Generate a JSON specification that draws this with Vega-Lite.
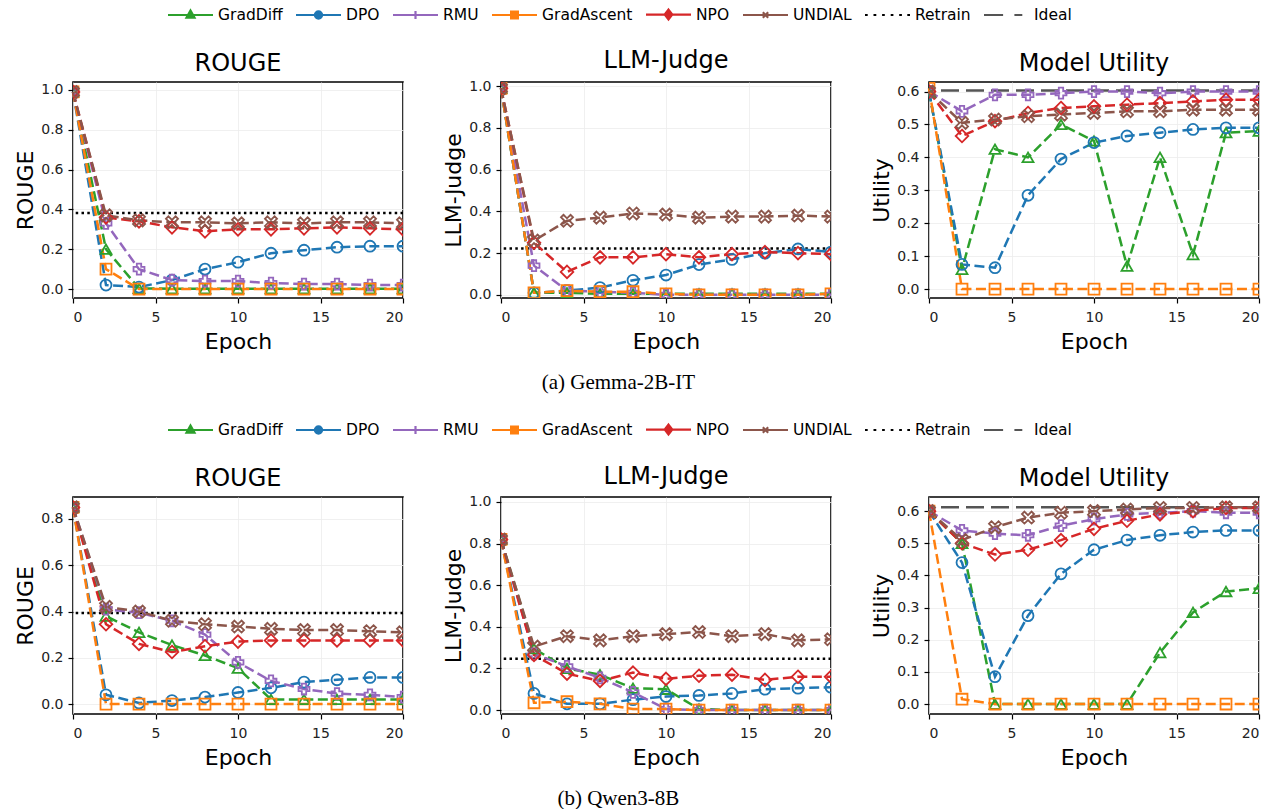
{
"$schema":"https://vega.github.io/schema/vega-lite/v6.json",
"background":"white",
"padding":{"left":13,"top":3,"right":0,"bottom":0},
"config":{
 "font":"DejaVu Sans",
 "view":{"stroke":"#000","strokeWidth":1.6},
 "axis":{"domain":false,"tickColor":"#000","tickSize":5,"tickWidth":1.2,"labelFontSize":14,"labelColor":"#222","titleFontSize":22,"titleFontWeight":"normal","titleColor":"#000","gridColor":"#ececec","gridWidth":0.8,"labelPadding":4},
 "axisX":{"titlePadding":7,"labelPadding":7},
 "axisY":{"titlePadding":3,"labelPadding":5},
 "title":{"fontSize":24,"fontWeight":"normal","color":"#000","offset":6}
},
"datasets":{
"refs":[
{"model":"Gemma","metric":"ROUGE","method":"Retrain","score":0.382},
{"model":"Gemma","metric":"Judge","method":"Retrain","score":0.222},
{"model":"Gemma","metric":"Utility","method":"Ideal","score":0.603},
{"model":"Qwen","metric":"ROUGE","method":"Retrain","score":0.394},
{"model":"Qwen","metric":"Judge","method":"Retrain","score":0.247},
{"model":"Qwen","metric":"Utility","method":"Ideal","score":0.612}
],
"curves":[
{"model":"Gemma","metric":"ROUGE","method":"GradDiff","epoch":0,"score":0.99},
{"model":"Gemma","metric":"ROUGE","method":"GradDiff","epoch":2,"score":0.2},
{"model":"Gemma","metric":"ROUGE","method":"GradDiff","epoch":4,"score":0.003},
{"model":"Gemma","metric":"ROUGE","method":"GradDiff","epoch":6,"score":0.002},
{"model":"Gemma","metric":"ROUGE","method":"GradDiff","epoch":8,"score":0.002},
{"model":"Gemma","metric":"ROUGE","method":"GradDiff","epoch":10,"score":0.002},
{"model":"Gemma","metric":"ROUGE","method":"GradDiff","epoch":12,"score":0.002},
{"model":"Gemma","metric":"ROUGE","method":"GradDiff","epoch":14,"score":0.002},
{"model":"Gemma","metric":"ROUGE","method":"GradDiff","epoch":16,"score":0.002},
{"model":"Gemma","metric":"ROUGE","method":"GradDiff","epoch":18,"score":0.002},
{"model":"Gemma","metric":"ROUGE","method":"GradDiff","epoch":20,"score":0.002},
{"model":"Gemma","metric":"ROUGE","method":"DPO","epoch":0,"score":0.99},
{"model":"Gemma","metric":"ROUGE","method":"DPO","epoch":2,"score":0.02},
{"model":"Gemma","metric":"ROUGE","method":"DPO","epoch":4,"score":0.01},
{"model":"Gemma","metric":"ROUGE","method":"DPO","epoch":6,"score":0.045},
{"model":"Gemma","metric":"ROUGE","method":"DPO","epoch":8,"score":0.1},
{"model":"Gemma","metric":"ROUGE","method":"DPO","epoch":10,"score":0.135},
{"model":"Gemma","metric":"ROUGE","method":"DPO","epoch":12,"score":0.18},
{"model":"Gemma","metric":"ROUGE","method":"DPO","epoch":14,"score":0.195},
{"model":"Gemma","metric":"ROUGE","method":"DPO","epoch":16,"score":0.21},
{"model":"Gemma","metric":"ROUGE","method":"DPO","epoch":18,"score":0.215},
{"model":"Gemma","metric":"ROUGE","method":"DPO","epoch":20,"score":0.215},
{"model":"Gemma","metric":"ROUGE","method":"RMU","epoch":0,"score":0.99},
{"model":"Gemma","metric":"ROUGE","method":"RMU","epoch":2,"score":0.33},
{"model":"Gemma","metric":"ROUGE","method":"RMU","epoch":4,"score":0.1},
{"model":"Gemma","metric":"ROUGE","method":"RMU","epoch":6,"score":0.045},
{"model":"Gemma","metric":"ROUGE","method":"RMU","epoch":8,"score":0.04},
{"model":"Gemma","metric":"ROUGE","method":"RMU","epoch":10,"score":0.04},
{"model":"Gemma","metric":"ROUGE","method":"RMU","epoch":12,"score":0.03},
{"model":"Gemma","metric":"ROUGE","method":"RMU","epoch":14,"score":0.025},
{"model":"Gemma","metric":"ROUGE","method":"RMU","epoch":16,"score":0.025},
{"model":"Gemma","metric":"ROUGE","method":"RMU","epoch":18,"score":0.02},
{"model":"Gemma","metric":"ROUGE","method":"RMU","epoch":20,"score":0.02},
{"model":"Gemma","metric":"ROUGE","method":"GradAscent","epoch":0,"score":0.99},
{"model":"Gemma","metric":"ROUGE","method":"GradAscent","epoch":2,"score":0.1},
{"model":"Gemma","metric":"ROUGE","method":"GradAscent","epoch":4,"score":0},
{"model":"Gemma","metric":"ROUGE","method":"GradAscent","epoch":6,"score":0},
{"model":"Gemma","metric":"ROUGE","method":"GradAscent","epoch":8,"score":0},
{"model":"Gemma","metric":"ROUGE","method":"GradAscent","epoch":10,"score":0},
{"model":"Gemma","metric":"ROUGE","method":"GradAscent","epoch":12,"score":0},
{"model":"Gemma","metric":"ROUGE","method":"GradAscent","epoch":14,"score":0},
{"model":"Gemma","metric":"ROUGE","method":"GradAscent","epoch":16,"score":0},
{"model":"Gemma","metric":"ROUGE","method":"GradAscent","epoch":18,"score":0},
{"model":"Gemma","metric":"ROUGE","method":"GradAscent","epoch":20,"score":0},
{"model":"Gemma","metric":"ROUGE","method":"NPO","epoch":0,"score":0.99},
{"model":"Gemma","metric":"ROUGE","method":"NPO","epoch":2,"score":0.36},
{"model":"Gemma","metric":"ROUGE","method":"NPO","epoch":4,"score":0.34},
{"model":"Gemma","metric":"ROUGE","method":"NPO","epoch":6,"score":0.31},
{"model":"Gemma","metric":"ROUGE","method":"NPO","epoch":8,"score":0.29},
{"model":"Gemma","metric":"ROUGE","method":"NPO","epoch":10,"score":0.3},
{"model":"Gemma","metric":"ROUGE","method":"NPO","epoch":12,"score":0.3},
{"model":"Gemma","metric":"ROUGE","method":"NPO","epoch":14,"score":0.305},
{"model":"Gemma","metric":"ROUGE","method":"NPO","epoch":16,"score":0.31},
{"model":"Gemma","metric":"ROUGE","method":"NPO","epoch":18,"score":0.305},
{"model":"Gemma","metric":"ROUGE","method":"NPO","epoch":20,"score":0.3},
{"model":"Gemma","metric":"ROUGE","method":"UNDIAL","epoch":0,"score":0.99},
{"model":"Gemma","metric":"ROUGE","method":"UNDIAL","epoch":2,"score":0.37},
{"model":"Gemma","metric":"ROUGE","method":"UNDIAL","epoch":4,"score":0.345},
{"model":"Gemma","metric":"ROUGE","method":"UNDIAL","epoch":6,"score":0.335},
{"model":"Gemma","metric":"ROUGE","method":"UNDIAL","epoch":8,"score":0.335},
{"model":"Gemma","metric":"ROUGE","method":"UNDIAL","epoch":10,"score":0.33},
{"model":"Gemma","metric":"ROUGE","method":"UNDIAL","epoch":12,"score":0.335},
{"model":"Gemma","metric":"ROUGE","method":"UNDIAL","epoch":14,"score":0.33},
{"model":"Gemma","metric":"ROUGE","method":"UNDIAL","epoch":16,"score":0.335},
{"model":"Gemma","metric":"ROUGE","method":"UNDIAL","epoch":18,"score":0.335},
{"model":"Gemma","metric":"ROUGE","method":"UNDIAL","epoch":20,"score":0.33},
{"model":"Gemma","metric":"Judge","method":"GradDiff","epoch":0,"score":0.99},
{"model":"Gemma","metric":"Judge","method":"GradDiff","epoch":2,"score":0.01},
{"model":"Gemma","metric":"Judge","method":"GradDiff","epoch":4,"score":0.01},
{"model":"Gemma","metric":"Judge","method":"GradDiff","epoch":6,"score":0.005},
{"model":"Gemma","metric":"Judge","method":"GradDiff","epoch":8,"score":0.005},
{"model":"Gemma","metric":"Judge","method":"GradDiff","epoch":10,"score":0.005},
{"model":"Gemma","metric":"Judge","method":"GradDiff","epoch":12,"score":0.005},
{"model":"Gemma","metric":"Judge","method":"GradDiff","epoch":14,"score":0.005},
{"model":"Gemma","metric":"Judge","method":"GradDiff","epoch":16,"score":0.005},
{"model":"Gemma","metric":"Judge","method":"GradDiff","epoch":18,"score":0.005},
{"model":"Gemma","metric":"Judge","method":"GradDiff","epoch":20,"score":0.005},
{"model":"Gemma","metric":"Judge","method":"DPO","epoch":0,"score":0.99},
{"model":"Gemma","metric":"Judge","method":"DPO","epoch":2,"score":0.01},
{"model":"Gemma","metric":"Judge","method":"DPO","epoch":4,"score":0.02},
{"model":"Gemma","metric":"Judge","method":"DPO","epoch":6,"score":0.035},
{"model":"Gemma","metric":"Judge","method":"DPO","epoch":8,"score":0.07},
{"model":"Gemma","metric":"Judge","method":"DPO","epoch":10,"score":0.095},
{"model":"Gemma","metric":"Judge","method":"DPO","epoch":12,"score":0.145},
{"model":"Gemma","metric":"Judge","method":"DPO","epoch":14,"score":0.17},
{"model":"Gemma","metric":"Judge","method":"DPO","epoch":16,"score":0.2},
{"model":"Gemma","metric":"Judge","method":"DPO","epoch":18,"score":0.22},
{"model":"Gemma","metric":"Judge","method":"DPO","epoch":20,"score":0.205},
{"model":"Gemma","metric":"Judge","method":"RMU","epoch":0,"score":0.99},
{"model":"Gemma","metric":"Judge","method":"RMU","epoch":2,"score":0.14},
{"model":"Gemma","metric":"Judge","method":"RMU","epoch":4,"score":0.02},
{"model":"Gemma","metric":"Judge","method":"RMU","epoch":6,"score":0.015},
{"model":"Gemma","metric":"Judge","method":"RMU","epoch":8,"score":0.01},
{"model":"Gemma","metric":"Judge","method":"RMU","epoch":10,"score":0},
{"model":"Gemma","metric":"Judge","method":"RMU","epoch":12,"score":0},
{"model":"Gemma","metric":"Judge","method":"RMU","epoch":14,"score":0},
{"model":"Gemma","metric":"Judge","method":"RMU","epoch":16,"score":0},
{"model":"Gemma","metric":"Judge","method":"RMU","epoch":18,"score":0},
{"model":"Gemma","metric":"Judge","method":"RMU","epoch":20,"score":0},
{"model":"Gemma","metric":"Judge","method":"GradAscent","epoch":0,"score":0.99},
{"model":"Gemma","metric":"Judge","method":"GradAscent","epoch":2,"score":0.01},
{"model":"Gemma","metric":"Judge","method":"GradAscent","epoch":4,"score":0.02},
{"model":"Gemma","metric":"Judge","method":"GradAscent","epoch":6,"score":0.015},
{"model":"Gemma","metric":"Judge","method":"GradAscent","epoch":8,"score":0.015},
{"model":"Gemma","metric":"Judge","method":"GradAscent","epoch":10,"score":0.005},
{"model":"Gemma","metric":"Judge","method":"GradAscent","epoch":12,"score":0},
{"model":"Gemma","metric":"Judge","method":"GradAscent","epoch":14,"score":0},
{"model":"Gemma","metric":"Judge","method":"GradAscent","epoch":16,"score":0},
{"model":"Gemma","metric":"Judge","method":"GradAscent","epoch":18,"score":0},
{"model":"Gemma","metric":"Judge","method":"GradAscent","epoch":20,"score":0.005},
{"model":"Gemma","metric":"Judge","method":"NPO","epoch":0,"score":0.99},
{"model":"Gemma","metric":"Judge","method":"NPO","epoch":2,"score":0.25},
{"model":"Gemma","metric":"Judge","method":"NPO","epoch":4,"score":0.11},
{"model":"Gemma","metric":"Judge","method":"NPO","epoch":6,"score":0.18},
{"model":"Gemma","metric":"Judge","method":"NPO","epoch":8,"score":0.18},
{"model":"Gemma","metric":"Judge","method":"NPO","epoch":10,"score":0.195},
{"model":"Gemma","metric":"Judge","method":"NPO","epoch":12,"score":0.18},
{"model":"Gemma","metric":"Judge","method":"NPO","epoch":14,"score":0.195},
{"model":"Gemma","metric":"Judge","method":"NPO","epoch":16,"score":0.205},
{"model":"Gemma","metric":"Judge","method":"NPO","epoch":18,"score":0.2},
{"model":"Gemma","metric":"Judge","method":"NPO","epoch":20,"score":0.195},
{"model":"Gemma","metric":"Judge","method":"UNDIAL","epoch":0,"score":0.99},
{"model":"Gemma","metric":"Judge","method":"UNDIAL","epoch":2,"score":0.26},
{"model":"Gemma","metric":"Judge","method":"UNDIAL","epoch":4,"score":0.355},
{"model":"Gemma","metric":"Judge","method":"UNDIAL","epoch":6,"score":0.37},
{"model":"Gemma","metric":"Judge","method":"UNDIAL","epoch":8,"score":0.39},
{"model":"Gemma","metric":"Judge","method":"UNDIAL","epoch":10,"score":0.385},
{"model":"Gemma","metric":"Judge","method":"UNDIAL","epoch":12,"score":0.37},
{"model":"Gemma","metric":"Judge","method":"UNDIAL","epoch":14,"score":0.375},
{"model":"Gemma","metric":"Judge","method":"UNDIAL","epoch":16,"score":0.375},
{"model":"Gemma","metric":"Judge","method":"UNDIAL","epoch":18,"score":0.38},
{"model":"Gemma","metric":"Judge","method":"UNDIAL","epoch":20,"score":0.375},
{"model":"Gemma","metric":"Utility","method":"GradDiff","epoch":0,"score":0.6},
{"model":"Gemma","metric":"Utility","method":"GradDiff","epoch":2,"score":0.06},
{"model":"Gemma","metric":"Utility","method":"GradDiff","epoch":4,"score":0.425},
{"model":"Gemma","metric":"Utility","method":"GradDiff","epoch":6,"score":0.4},
{"model":"Gemma","metric":"Utility","method":"GradDiff","epoch":8,"score":0.5},
{"model":"Gemma","metric":"Utility","method":"GradDiff","epoch":10,"score":0.45},
{"model":"Gemma","metric":"Utility","method":"GradDiff","epoch":12,"score":0.07},
{"model":"Gemma","metric":"Utility","method":"GradDiff","epoch":14,"score":0.4},
{"model":"Gemma","metric":"Utility","method":"GradDiff","epoch":16,"score":0.105},
{"model":"Gemma","metric":"Utility","method":"GradDiff","epoch":18,"score":0.475},
{"model":"Gemma","metric":"Utility","method":"GradDiff","epoch":20,"score":0.48},
{"model":"Gemma","metric":"Utility","method":"DPO","epoch":0,"score":0.6},
{"model":"Gemma","metric":"Utility","method":"DPO","epoch":2,"score":0.075},
{"model":"Gemma","metric":"Utility","method":"DPO","epoch":4,"score":0.065},
{"model":"Gemma","metric":"Utility","method":"DPO","epoch":6,"score":0.285},
{"model":"Gemma","metric":"Utility","method":"DPO","epoch":8,"score":0.395},
{"model":"Gemma","metric":"Utility","method":"DPO","epoch":10,"score":0.445},
{"model":"Gemma","metric":"Utility","method":"DPO","epoch":12,"score":0.465},
{"model":"Gemma","metric":"Utility","method":"DPO","epoch":14,"score":0.475},
{"model":"Gemma","metric":"Utility","method":"DPO","epoch":16,"score":0.485},
{"model":"Gemma","metric":"Utility","method":"DPO","epoch":18,"score":0.49},
{"model":"Gemma","metric":"Utility","method":"DPO","epoch":20,"score":0.49},
{"model":"Gemma","metric":"Utility","method":"RMU","epoch":0,"score":0.6},
{"model":"Gemma","metric":"Utility","method":"RMU","epoch":2,"score":0.54},
{"model":"Gemma","metric":"Utility","method":"RMU","epoch":4,"score":0.59},
{"model":"Gemma","metric":"Utility","method":"RMU","epoch":6,"score":0.59},
{"model":"Gemma","metric":"Utility","method":"RMU","epoch":8,"score":0.595},
{"model":"Gemma","metric":"Utility","method":"RMU","epoch":10,"score":0.6},
{"model":"Gemma","metric":"Utility","method":"RMU","epoch":12,"score":0.6},
{"model":"Gemma","metric":"Utility","method":"RMU","epoch":14,"score":0.595},
{"model":"Gemma","metric":"Utility","method":"RMU","epoch":16,"score":0.6},
{"model":"Gemma","metric":"Utility","method":"RMU","epoch":18,"score":0.6},
{"model":"Gemma","metric":"Utility","method":"RMU","epoch":20,"score":0.6},
{"model":"Gemma","metric":"Utility","method":"GradAscent","epoch":0,"score":0.61},
{"model":"Gemma","metric":"Utility","method":"GradAscent","epoch":2,"score":0},
{"model":"Gemma","metric":"Utility","method":"GradAscent","epoch":4,"score":0},
{"model":"Gemma","metric":"Utility","method":"GradAscent","epoch":6,"score":0},
{"model":"Gemma","metric":"Utility","method":"GradAscent","epoch":8,"score":0},
{"model":"Gemma","metric":"Utility","method":"GradAscent","epoch":10,"score":0},
{"model":"Gemma","metric":"Utility","method":"GradAscent","epoch":12,"score":0},
{"model":"Gemma","metric":"Utility","method":"GradAscent","epoch":14,"score":0},
{"model":"Gemma","metric":"Utility","method":"GradAscent","epoch":16,"score":0},
{"model":"Gemma","metric":"Utility","method":"GradAscent","epoch":18,"score":0},
{"model":"Gemma","metric":"Utility","method":"GradAscent","epoch":20,"score":0},
{"model":"Gemma","metric":"Utility","method":"NPO","epoch":0,"score":0.6},
{"model":"Gemma","metric":"Utility","method":"NPO","epoch":2,"score":0.465},
{"model":"Gemma","metric":"Utility","method":"NPO","epoch":4,"score":0.51},
{"model":"Gemma","metric":"Utility","method":"NPO","epoch":6,"score":0.535},
{"model":"Gemma","metric":"Utility","method":"NPO","epoch":8,"score":0.55},
{"model":"Gemma","metric":"Utility","method":"NPO","epoch":10,"score":0.555},
{"model":"Gemma","metric":"Utility","method":"NPO","epoch":12,"score":0.56},
{"model":"Gemma","metric":"Utility","method":"NPO","epoch":14,"score":0.565},
{"model":"Gemma","metric":"Utility","method":"NPO","epoch":16,"score":0.57},
{"model":"Gemma","metric":"Utility","method":"NPO","epoch":18,"score":0.575},
{"model":"Gemma","metric":"Utility","method":"NPO","epoch":20,"score":0.575},
{"model":"Gemma","metric":"Utility","method":"UNDIAL","epoch":0,"score":0.6},
{"model":"Gemma","metric":"Utility","method":"UNDIAL","epoch":2,"score":0.505},
{"model":"Gemma","metric":"Utility","method":"UNDIAL","epoch":4,"score":0.515},
{"model":"Gemma","metric":"Utility","method":"UNDIAL","epoch":6,"score":0.525},
{"model":"Gemma","metric":"Utility","method":"UNDIAL","epoch":8,"score":0.53},
{"model":"Gemma","metric":"Utility","method":"UNDIAL","epoch":10,"score":0.535},
{"model":"Gemma","metric":"Utility","method":"UNDIAL","epoch":12,"score":0.54},
{"model":"Gemma","metric":"Utility","method":"UNDIAL","epoch":14,"score":0.54},
{"model":"Gemma","metric":"Utility","method":"UNDIAL","epoch":16,"score":0.545},
{"model":"Gemma","metric":"Utility","method":"UNDIAL","epoch":18,"score":0.545},
{"model":"Gemma","metric":"Utility","method":"UNDIAL","epoch":20,"score":0.545},
{"model":"Qwen","metric":"ROUGE","method":"GradDiff","epoch":0,"score":0.85},
{"model":"Qwen","metric":"ROUGE","method":"GradDiff","epoch":2,"score":0.38},
{"model":"Qwen","metric":"ROUGE","method":"GradDiff","epoch":4,"score":0.31},
{"model":"Qwen","metric":"ROUGE","method":"GradDiff","epoch":6,"score":0.255},
{"model":"Qwen","metric":"ROUGE","method":"GradDiff","epoch":8,"score":0.21},
{"model":"Qwen","metric":"ROUGE","method":"GradDiff","epoch":10,"score":0.155},
{"model":"Qwen","metric":"ROUGE","method":"GradDiff","epoch":12,"score":0.02},
{"model":"Qwen","metric":"ROUGE","method":"GradDiff","epoch":14,"score":0.02},
{"model":"Qwen","metric":"ROUGE","method":"GradDiff","epoch":16,"score":0.02},
{"model":"Qwen","metric":"ROUGE","method":"GradDiff","epoch":18,"score":0.02},
{"model":"Qwen","metric":"ROUGE","method":"GradDiff","epoch":20,"score":0.02},
{"model":"Qwen","metric":"ROUGE","method":"DPO","epoch":0,"score":0.85},
{"model":"Qwen","metric":"ROUGE","method":"DPO","epoch":2,"score":0.04},
{"model":"Qwen","metric":"ROUGE","method":"DPO","epoch":4,"score":0.005},
{"model":"Qwen","metric":"ROUGE","method":"DPO","epoch":6,"score":0.015},
{"model":"Qwen","metric":"ROUGE","method":"DPO","epoch":8,"score":0.03},
{"model":"Qwen","metric":"ROUGE","method":"DPO","epoch":10,"score":0.05},
{"model":"Qwen","metric":"ROUGE","method":"DPO","epoch":12,"score":0.07},
{"model":"Qwen","metric":"ROUGE","method":"DPO","epoch":14,"score":0.095},
{"model":"Qwen","metric":"ROUGE","method":"DPO","epoch":16,"score":0.105},
{"model":"Qwen","metric":"ROUGE","method":"DPO","epoch":18,"score":0.115},
{"model":"Qwen","metric":"ROUGE","method":"DPO","epoch":20,"score":0.115},
{"model":"Qwen","metric":"ROUGE","method":"RMU","epoch":0,"score":0.85},
{"model":"Qwen","metric":"ROUGE","method":"RMU","epoch":2,"score":0.41},
{"model":"Qwen","metric":"ROUGE","method":"RMU","epoch":4,"score":0.395},
{"model":"Qwen","metric":"ROUGE","method":"RMU","epoch":6,"score":0.36},
{"model":"Qwen","metric":"ROUGE","method":"RMU","epoch":8,"score":0.3},
{"model":"Qwen","metric":"ROUGE","method":"RMU","epoch":10,"score":0.18},
{"model":"Qwen","metric":"ROUGE","method":"RMU","epoch":12,"score":0.1},
{"model":"Qwen","metric":"ROUGE","method":"RMU","epoch":14,"score":0.065},
{"model":"Qwen","metric":"ROUGE","method":"RMU","epoch":16,"score":0.045},
{"model":"Qwen","metric":"ROUGE","method":"RMU","epoch":18,"score":0.04},
{"model":"Qwen","metric":"ROUGE","method":"RMU","epoch":20,"score":0.03},
{"model":"Qwen","metric":"ROUGE","method":"GradAscent","epoch":0,"score":0.85},
{"model":"Qwen","metric":"ROUGE","method":"GradAscent","epoch":2,"score":0},
{"model":"Qwen","metric":"ROUGE","method":"GradAscent","epoch":4,"score":0},
{"model":"Qwen","metric":"ROUGE","method":"GradAscent","epoch":6,"score":0},
{"model":"Qwen","metric":"ROUGE","method":"GradAscent","epoch":8,"score":0},
{"model":"Qwen","metric":"ROUGE","method":"GradAscent","epoch":10,"score":0},
{"model":"Qwen","metric":"ROUGE","method":"GradAscent","epoch":12,"score":0},
{"model":"Qwen","metric":"ROUGE","method":"GradAscent","epoch":14,"score":0},
{"model":"Qwen","metric":"ROUGE","method":"GradAscent","epoch":16,"score":0},
{"model":"Qwen","metric":"ROUGE","method":"GradAscent","epoch":18,"score":0},
{"model":"Qwen","metric":"ROUGE","method":"GradAscent","epoch":20,"score":0},
{"model":"Qwen","metric":"ROUGE","method":"NPO","epoch":0,"score":0.85},
{"model":"Qwen","metric":"ROUGE","method":"NPO","epoch":2,"score":0.345},
{"model":"Qwen","metric":"ROUGE","method":"NPO","epoch":4,"score":0.26},
{"model":"Qwen","metric":"ROUGE","method":"NPO","epoch":6,"score":0.225},
{"model":"Qwen","metric":"ROUGE","method":"NPO","epoch":8,"score":0.25},
{"model":"Qwen","metric":"ROUGE","method":"NPO","epoch":10,"score":0.27},
{"model":"Qwen","metric":"ROUGE","method":"NPO","epoch":12,"score":0.275},
{"model":"Qwen","metric":"ROUGE","method":"NPO","epoch":14,"score":0.275},
{"model":"Qwen","metric":"ROUGE","method":"NPO","epoch":16,"score":0.275},
{"model":"Qwen","metric":"ROUGE","method":"NPO","epoch":18,"score":0.275},
{"model":"Qwen","metric":"ROUGE","method":"NPO","epoch":20,"score":0.275},
{"model":"Qwen","metric":"ROUGE","method":"UNDIAL","epoch":0,"score":0.85},
{"model":"Qwen","metric":"ROUGE","method":"UNDIAL","epoch":2,"score":0.42},
{"model":"Qwen","metric":"ROUGE","method":"UNDIAL","epoch":4,"score":0.4},
{"model":"Qwen","metric":"ROUGE","method":"UNDIAL","epoch":6,"score":0.36},
{"model":"Qwen","metric":"ROUGE","method":"UNDIAL","epoch":8,"score":0.345},
{"model":"Qwen","metric":"ROUGE","method":"UNDIAL","epoch":10,"score":0.335},
{"model":"Qwen","metric":"ROUGE","method":"UNDIAL","epoch":12,"score":0.325},
{"model":"Qwen","metric":"ROUGE","method":"UNDIAL","epoch":14,"score":0.32},
{"model":"Qwen","metric":"ROUGE","method":"UNDIAL","epoch":16,"score":0.32},
{"model":"Qwen","metric":"ROUGE","method":"UNDIAL","epoch":18,"score":0.315},
{"model":"Qwen","metric":"ROUGE","method":"UNDIAL","epoch":20,"score":0.31},
{"model":"Qwen","metric":"Judge","method":"GradDiff","epoch":0,"score":0.82},
{"model":"Qwen","metric":"Judge","method":"GradDiff","epoch":2,"score":0.295},
{"model":"Qwen","metric":"Judge","method":"GradDiff","epoch":4,"score":0.2},
{"model":"Qwen","metric":"Judge","method":"GradDiff","epoch":6,"score":0.17},
{"model":"Qwen","metric":"Judge","method":"GradDiff","epoch":8,"score":0.105},
{"model":"Qwen","metric":"Judge","method":"GradDiff","epoch":10,"score":0.1},
{"model":"Qwen","metric":"Judge","method":"GradDiff","epoch":12,"score":0.005},
{"model":"Qwen","metric":"Judge","method":"GradDiff","epoch":14,"score":0},
{"model":"Qwen","metric":"Judge","method":"GradDiff","epoch":16,"score":0},
{"model":"Qwen","metric":"Judge","method":"GradDiff","epoch":18,"score":0},
{"model":"Qwen","metric":"Judge","method":"GradDiff","epoch":20,"score":0},
{"model":"Qwen","metric":"Judge","method":"DPO","epoch":0,"score":0.82},
{"model":"Qwen","metric":"Judge","method":"DPO","epoch":2,"score":0.08},
{"model":"Qwen","metric":"Judge","method":"DPO","epoch":4,"score":0.03},
{"model":"Qwen","metric":"Judge","method":"DPO","epoch":6,"score":0.03},
{"model":"Qwen","metric":"Judge","method":"DPO","epoch":8,"score":0.05},
{"model":"Qwen","metric":"Judge","method":"DPO","epoch":10,"score":0.065},
{"model":"Qwen","metric":"Judge","method":"DPO","epoch":12,"score":0.07},
{"model":"Qwen","metric":"Judge","method":"DPO","epoch":14,"score":0.08},
{"model":"Qwen","metric":"Judge","method":"DPO","epoch":16,"score":0.1},
{"model":"Qwen","metric":"Judge","method":"DPO","epoch":18,"score":0.105},
{"model":"Qwen","metric":"Judge","method":"DPO","epoch":20,"score":0.11},
{"model":"Qwen","metric":"Judge","method":"RMU","epoch":0,"score":0.82},
{"model":"Qwen","metric":"Judge","method":"RMU","epoch":2,"score":0.27},
{"model":"Qwen","metric":"Judge","method":"RMU","epoch":4,"score":0.21},
{"model":"Qwen","metric":"Judge","method":"RMU","epoch":6,"score":0.155},
{"model":"Qwen","metric":"Judge","method":"RMU","epoch":8,"score":0.085},
{"model":"Qwen","metric":"Judge","method":"RMU","epoch":10,"score":0.005},
{"model":"Qwen","metric":"Judge","method":"RMU","epoch":12,"score":0},
{"model":"Qwen","metric":"Judge","method":"RMU","epoch":14,"score":0},
{"model":"Qwen","metric":"Judge","method":"RMU","epoch":16,"score":0},
{"model":"Qwen","metric":"Judge","method":"RMU","epoch":18,"score":0},
{"model":"Qwen","metric":"Judge","method":"RMU","epoch":20,"score":0},
{"model":"Qwen","metric":"Judge","method":"GradAscent","epoch":0,"score":0.82},
{"model":"Qwen","metric":"Judge","method":"GradAscent","epoch":2,"score":0.035},
{"model":"Qwen","metric":"Judge","method":"GradAscent","epoch":4,"score":0.04},
{"model":"Qwen","metric":"Judge","method":"GradAscent","epoch":6,"score":0.03},
{"model":"Qwen","metric":"Judge","method":"GradAscent","epoch":8,"score":0.005},
{"model":"Qwen","metric":"Judge","method":"GradAscent","epoch":10,"score":0.005},
{"model":"Qwen","metric":"Judge","method":"GradAscent","epoch":12,"score":0},
{"model":"Qwen","metric":"Judge","method":"GradAscent","epoch":14,"score":0},
{"model":"Qwen","metric":"Judge","method":"GradAscent","epoch":16,"score":0},
{"model":"Qwen","metric":"Judge","method":"GradAscent","epoch":18,"score":0},
{"model":"Qwen","metric":"Judge","method":"GradAscent","epoch":20,"score":0},
{"model":"Qwen","metric":"Judge","method":"NPO","epoch":0,"score":0.82},
{"model":"Qwen","metric":"Judge","method":"NPO","epoch":2,"score":0.265},
{"model":"Qwen","metric":"Judge","method":"NPO","epoch":4,"score":0.175},
{"model":"Qwen","metric":"Judge","method":"NPO","epoch":6,"score":0.14},
{"model":"Qwen","metric":"Judge","method":"NPO","epoch":8,"score":0.18},
{"model":"Qwen","metric":"Judge","method":"NPO","epoch":10,"score":0.15},
{"model":"Qwen","metric":"Judge","method":"NPO","epoch":12,"score":0.165},
{"model":"Qwen","metric":"Judge","method":"NPO","epoch":14,"score":0.17},
{"model":"Qwen","metric":"Judge","method":"NPO","epoch":16,"score":0.145},
{"model":"Qwen","metric":"Judge","method":"NPO","epoch":18,"score":0.16},
{"model":"Qwen","metric":"Judge","method":"NPO","epoch":20,"score":0.16},
{"model":"Qwen","metric":"Judge","method":"UNDIAL","epoch":0,"score":0.82},
{"model":"Qwen","metric":"Judge","method":"UNDIAL","epoch":2,"score":0.305},
{"model":"Qwen","metric":"Judge","method":"UNDIAL","epoch":4,"score":0.355},
{"model":"Qwen","metric":"Judge","method":"UNDIAL","epoch":6,"score":0.335},
{"model":"Qwen","metric":"Judge","method":"UNDIAL","epoch":8,"score":0.355},
{"model":"Qwen","metric":"Judge","method":"UNDIAL","epoch":10,"score":0.365},
{"model":"Qwen","metric":"Judge","method":"UNDIAL","epoch":12,"score":0.375},
{"model":"Qwen","metric":"Judge","method":"UNDIAL","epoch":14,"score":0.355},
{"model":"Qwen","metric":"Judge","method":"UNDIAL","epoch":16,"score":0.365},
{"model":"Qwen","metric":"Judge","method":"UNDIAL","epoch":18,"score":0.335},
{"model":"Qwen","metric":"Judge","method":"UNDIAL","epoch":20,"score":0.34},
{"model":"Qwen","metric":"Utility","method":"GradDiff","epoch":0,"score":0.6},
{"model":"Qwen","metric":"Utility","method":"GradDiff","epoch":2,"score":0.5},
{"model":"Qwen","metric":"Utility","method":"GradDiff","epoch":4,"score":0},
{"model":"Qwen","metric":"Utility","method":"GradDiff","epoch":6,"score":0},
{"model":"Qwen","metric":"Utility","method":"GradDiff","epoch":8,"score":0},
{"model":"Qwen","metric":"Utility","method":"GradDiff","epoch":10,"score":0},
{"model":"Qwen","metric":"Utility","method":"GradDiff","epoch":12,"score":0},
{"model":"Qwen","metric":"Utility","method":"GradDiff","epoch":14,"score":0.16},
{"model":"Qwen","metric":"Utility","method":"GradDiff","epoch":16,"score":0.285},
{"model":"Qwen","metric":"Utility","method":"GradDiff","epoch":18,"score":0.35},
{"model":"Qwen","metric":"Utility","method":"GradDiff","epoch":20,"score":0.36},
{"model":"Qwen","metric":"Utility","method":"DPO","epoch":0,"score":0.6},
{"model":"Qwen","metric":"Utility","method":"DPO","epoch":2,"score":0.44},
{"model":"Qwen","metric":"Utility","method":"DPO","epoch":4,"score":0.085},
{"model":"Qwen","metric":"Utility","method":"DPO","epoch":6,"score":0.275},
{"model":"Qwen","metric":"Utility","method":"DPO","epoch":8,"score":0.405},
{"model":"Qwen","metric":"Utility","method":"DPO","epoch":10,"score":0.48},
{"model":"Qwen","metric":"Utility","method":"DPO","epoch":12,"score":0.51},
{"model":"Qwen","metric":"Utility","method":"DPO","epoch":14,"score":0.525},
{"model":"Qwen","metric":"Utility","method":"DPO","epoch":16,"score":0.535},
{"model":"Qwen","metric":"Utility","method":"DPO","epoch":18,"score":0.54},
{"model":"Qwen","metric":"Utility","method":"DPO","epoch":20,"score":0.54},
{"model":"Qwen","metric":"Utility","method":"RMU","epoch":0,"score":0.6},
{"model":"Qwen","metric":"Utility","method":"RMU","epoch":2,"score":0.54},
{"model":"Qwen","metric":"Utility","method":"RMU","epoch":4,"score":0.53},
{"model":"Qwen","metric":"Utility","method":"RMU","epoch":6,"score":0.525},
{"model":"Qwen","metric":"Utility","method":"RMU","epoch":8,"score":0.555},
{"model":"Qwen","metric":"Utility","method":"RMU","epoch":10,"score":0.575},
{"model":"Qwen","metric":"Utility","method":"RMU","epoch":12,"score":0.59},
{"model":"Qwen","metric":"Utility","method":"RMU","epoch":14,"score":0.595},
{"model":"Qwen","metric":"Utility","method":"RMU","epoch":16,"score":0.6},
{"model":"Qwen","metric":"Utility","method":"RMU","epoch":18,"score":0.595},
{"model":"Qwen","metric":"Utility","method":"RMU","epoch":20,"score":0.595},
{"model":"Qwen","metric":"Utility","method":"GradAscent","epoch":0,"score":0.6},
{"model":"Qwen","metric":"Utility","method":"GradAscent","epoch":2,"score":0.015},
{"model":"Qwen","metric":"Utility","method":"GradAscent","epoch":4,"score":0},
{"model":"Qwen","metric":"Utility","method":"GradAscent","epoch":6,"score":0},
{"model":"Qwen","metric":"Utility","method":"GradAscent","epoch":8,"score":0},
{"model":"Qwen","metric":"Utility","method":"GradAscent","epoch":10,"score":0},
{"model":"Qwen","metric":"Utility","method":"GradAscent","epoch":12,"score":0},
{"model":"Qwen","metric":"Utility","method":"GradAscent","epoch":14,"score":0},
{"model":"Qwen","metric":"Utility","method":"GradAscent","epoch":16,"score":0},
{"model":"Qwen","metric":"Utility","method":"GradAscent","epoch":18,"score":0},
{"model":"Qwen","metric":"Utility","method":"GradAscent","epoch":20,"score":0},
{"model":"Qwen","metric":"Utility","method":"NPO","epoch":0,"score":0.6},
{"model":"Qwen","metric":"Utility","method":"NPO","epoch":2,"score":0.5},
{"model":"Qwen","metric":"Utility","method":"NPO","epoch":4,"score":0.465},
{"model":"Qwen","metric":"Utility","method":"NPO","epoch":6,"score":0.48},
{"model":"Qwen","metric":"Utility","method":"NPO","epoch":8,"score":0.51},
{"model":"Qwen","metric":"Utility","method":"NPO","epoch":10,"score":0.545},
{"model":"Qwen","metric":"Utility","method":"NPO","epoch":12,"score":0.57},
{"model":"Qwen","metric":"Utility","method":"NPO","epoch":14,"score":0.59},
{"model":"Qwen","metric":"Utility","method":"NPO","epoch":16,"score":0.6},
{"model":"Qwen","metric":"Utility","method":"NPO","epoch":18,"score":0.61},
{"model":"Qwen","metric":"Utility","method":"NPO","epoch":20,"score":0.61},
{"model":"Qwen","metric":"Utility","method":"UNDIAL","epoch":0,"score":0.6},
{"model":"Qwen","metric":"Utility","method":"UNDIAL","epoch":2,"score":0.51},
{"model":"Qwen","metric":"Utility","method":"UNDIAL","epoch":4,"score":0.55},
{"model":"Qwen","metric":"Utility","method":"UNDIAL","epoch":6,"score":0.58},
{"model":"Qwen","metric":"Utility","method":"UNDIAL","epoch":8,"score":0.595},
{"model":"Qwen","metric":"Utility","method":"UNDIAL","epoch":10,"score":0.6},
{"model":"Qwen","metric":"Utility","method":"UNDIAL","epoch":12,"score":0.605},
{"model":"Qwen","metric":"Utility","method":"UNDIAL","epoch":14,"score":0.61},
{"model":"Qwen","metric":"Utility","method":"UNDIAL","epoch":16,"score":0.61},
{"model":"Qwen","metric":"Utility","method":"UNDIAL","epoch":18,"score":0.612},
{"model":"Qwen","metric":"Utility","method":"UNDIAL","epoch":20,"score":0.612}
]},
"resolve":{"scale":{"color":"independent"},"legend":{"color":"independent"}},
"spacing":25,
"vconcat":[
{"title":{"text":"(a) Gemma-2B-IT","orient":"bottom","anchor":"middle","font":"Liberation Serif","fontSize":21,"fontWeight":"normal","offset":19,"dx":-21},
 "bounds":"flush","spacing":98,
 "hconcat":[
  {"width":330,"height":216,"title":"ROUGE",
   "encoding":{"y":{"field":"score","type":"quantitative","scale":{"domain":[-0.045,1.04],"nice":false,"zero":false},"axis":{"title":"ROUGE","values":[0,0.2,0.4,0.6,0.8,1.0],"format":".1f"}}},
   "layer":[
    {"data":{"name":"refs"},"transform":[{"filter":"datum.model==='Gemma' && datum.metric==='ROUGE'"}],"mark":{"type":"rule","strokeWidth":2.5},
     "encoding":{"color":{"field":"method","type":"nominal","scale":{"domain":["GradDiff","DPO","RMU","GradAscent","NPO","UNDIAL","Retrain","Ideal"],"range":["#2ca02c","#1f77b4","#9467bd","#ff7f0e","#d62728","#8c564b","#000000","#555555"]}},
      "strokeDash":{"field":"method","type":"nominal","legend":null,"scale":{"domain":["Retrain","Ideal"],"range":[[2.5,3.3],[18,7]]}}}},
    {"data":{"name":"curves"},"transform":[{"filter":"datum.model==='Gemma' && datum.metric==='ROUGE'"}],"mark":{"type":"line","strokeWidth":2.5,"strokeDash":[10,4.5]},
     "encoding":{"x":{"field":"epoch","type":"quantitative","scale":{"domain":[0,20],"nice":false},"axis":{"title":"Epoch","values":[0,5,10,15,20]}},
      "color":{"field":"method","type":"nominal","legend":{"title":null,"orient":"none","legendX":106,"legendY":-79,"direction":"horizontal","columns":8,"symbolSize":400,"symbolStrokeWidth":2.2,"labelFont":"DejaVu Sans","labelFontSize":15.5,"labelColor":"#000","labelOffset":16,"columnPadding":8,
        "encode":{"symbols":{"update":{
          "shape":{"signal":"({'GradDiff':'M-2.25,0H2.25M0,-0.45L0.4,0.27L-0.4,0.27Z','DPO':'M-2.25,0H2.25M-0.36,0A0.36,0.36,0,1,0,0.36,0A0.36,0.36,0,1,0,-0.36,0Z','RMU':'M-2.25,0H2.25M-0.4,0H0.4M0,-0.4V0.4','GradAscent':'M-2.25,0H2.25M-0.34,-0.34H0.34V0.34H-0.34Z','NPO':'M-2.25,0H2.25M0,-0.5L0.38,0L0,0.5L-0.38,0Z','UNDIAL':'M-2.25,0H2.25M-0.27,-0.27L0.27,0.27M-0.27,0.27L0.27,-0.27','Retrain':'M-2.25,0H-1.98M-1.4,0H-1.12M-0.54,0H-0.27M0.32,0H0.59M1.17,0H1.44M1.98,0H2.25','Ideal':'M-2.25,0H-0.34M0.79,0H1.58'})[datum.value]"},
          "fill":{"signal":"({'GradDiff':'#2ca02c','DPO':'#1f77b4','RMU':'#9467bd','GradAscent':'#ff7f0e','NPO':'#d62728','UNDIAL':'#8c564b','Retrain':'#000000','Ideal':'#555555'})[datum.value]"},
          "stroke":{"signal":"({'GradDiff':'#2ca02c','DPO':'#1f77b4','RMU':'#9467bd','GradAscent':'#ff7f0e','NPO':'#d62728','UNDIAL':'#8c564b','Retrain':'#000000','Ideal':'#555555'})[datum.value]"},
          "strokeWidth":{"value":2.2},"strokeDash":{"value":[]},"opacity":{"value":1}}}}}}}},
    {"data":{"name":"curves"},"transform":[{"filter":"datum.model==='Gemma' && datum.metric==='ROUGE'"}],"mark":{"type":"point","filled":false,"strokeWidth":1.8,"size":120,"clip":true,"opacity":1},
     "encoding":{"x":{"field":"epoch","type":"quantitative"},"color":{"field":"method","type":"nominal"},
      "shape":{"field":"method","type":"nominal","legend":null,"scale":{"domain":["GradDiff","DPO","RMU","GradAscent","NPO","UNDIAL"],"range":["triangle-up","circle","cross","square","M0,-1.15L1.15,0L0,1.15L-1.15,0Z","M-0.65,-1.1L0,-0.45L0.65,-1.1L1.1,-0.65L0.45,0L1.1,0.65L0.65,1.1L0,0.45L-0.65,1.1L-1.1,0.65L-0.45,0L-1.1,-0.65Z"]}}}}
   ]},
  {"width":330,"height":216,"title":"LLM-Judge",
   "encoding":{"y":{"field":"score","type":"quantitative","scale":{"domain":[-0.015,1.02],"nice":false,"zero":false},"axis":{"title":"LLM-Judge","values":[0,0.2,0.4,0.6,0.8,1.0],"format":".1f"}}},
   "layer":[
    {"data":{"name":"refs"},"transform":[{"filter":"datum.model==='Gemma' && datum.metric==='Judge'"}],"mark":{"type":"rule","strokeWidth":2.5},
     "encoding":{"color":{"field":"method","type":"nominal"},"strokeDash":{"field":"method","type":"nominal","legend":null}}},
    {"data":{"name":"curves"},"transform":[{"filter":"datum.model==='Gemma' && datum.metric==='Judge'"}],"mark":{"type":"line","strokeWidth":2.5,"strokeDash":[10,4.5]},
     "encoding":{"x":{"field":"epoch","type":"quantitative","scale":{"domain":[0,20],"nice":false},"axis":{"title":"Epoch","values":[0,5,10,15,20]}},"color":{"field":"method","type":"nominal"}}},
    {"data":{"name":"curves"},"transform":[{"filter":"datum.model==='Gemma' && datum.metric==='Judge'"}],"mark":{"type":"point","filled":false,"strokeWidth":1.8,"size":120,"clip":true,"opacity":1},
     "encoding":{"x":{"field":"epoch","type":"quantitative"},"color":{"field":"method","type":"nominal"},"shape":{"field":"method","type":"nominal","legend":null}}}
   ]},
  {"width":330,"height":216,"title":"Model Utility",
   "encoding":{"y":{"field":"score","type":"quantitative","scale":{"domain":[-0.027,0.629],"nice":false,"zero":false},"axis":{"title":"Utility","values":[0,0.1,0.2,0.3,0.4,0.5,0.6],"format":".1f"}}},
   "layer":[
    {"data":{"name":"refs"},"transform":[{"filter":"datum.model==='Gemma' && datum.metric==='Utility'"}],"mark":{"type":"rule","strokeWidth":2.5},
     "encoding":{"color":{"field":"method","type":"nominal"},"strokeDash":{"field":"method","type":"nominal","legend":null}}},
    {"data":{"name":"curves"},"transform":[{"filter":"datum.model==='Gemma' && datum.metric==='Utility'"}],"mark":{"type":"line","strokeWidth":2.5,"strokeDash":[10,4.5]},
     "encoding":{"x":{"field":"epoch","type":"quantitative","scale":{"domain":[0,20],"nice":false},"axis":{"title":"Epoch","values":[0,5,10,15,20]}},"color":{"field":"method","type":"nominal"}}},
    {"data":{"name":"curves"},"transform":[{"filter":"datum.model==='Gemma' && datum.metric==='Utility'"}],"mark":{"type":"point","filled":false,"strokeWidth":1.8,"size":120,"clip":true,"opacity":1},
     "encoding":{"x":{"field":"epoch","type":"quantitative"},"color":{"field":"method","type":"nominal"},"shape":{"field":"method","type":"nominal","legend":null}}}
   ]}
 ]},
{"title":{"text":"(b) Qwen3-8B","orient":"bottom","anchor":"middle","font":"Liberation Serif","fontSize":21,"fontWeight":"normal","offset":19,"dx":-21},
 "bounds":"flush","spacing":98,
 "hconcat":[
  {"width":330,"height":217,"title":"ROUGE",
   "encoding":{"y":{"field":"score","type":"quantitative","scale":{"domain":[-0.043,0.895],"nice":false,"zero":false},"axis":{"title":"ROUGE","values":[0,0.2,0.4,0.6,0.8],"format":".1f"}}},
   "layer":[
    {"data":{"name":"refs"},"transform":[{"filter":"datum.model==='Qwen' && datum.metric==='ROUGE'"}],"mark":{"type":"rule","strokeWidth":2.5},
     "encoding":{"color":{"field":"method","type":"nominal","scale":{"domain":["GradDiff","DPO","RMU","GradAscent","NPO","UNDIAL","Retrain","Ideal"],"range":["#2ca02c","#1f77b4","#9467bd","#ff7f0e","#d62728","#8c564b","#000000","#555555"]}},"strokeDash":{"field":"method","type":"nominal","legend":null}}},
    {"data":{"name":"curves"},"transform":[{"filter":"datum.model==='Qwen' && datum.metric==='ROUGE'"}],"mark":{"type":"line","strokeWidth":2.5,"strokeDash":[10,4.5]},
     "encoding":{"x":{"field":"epoch","type":"quantitative","scale":{"domain":[0,20],"nice":false},"axis":{"title":"Epoch","values":[0,5,10,15,20]}},
      "color":{"field":"method","type":"nominal","legend":{"title":null,"orient":"none","legendX":106,"legendY":-79,"direction":"horizontal","columns":8,"symbolSize":400,"symbolStrokeWidth":2.2,"labelFont":"DejaVu Sans","labelFontSize":15.5,"labelColor":"#000","labelOffset":16,"columnPadding":8,
        "encode":{"symbols":{"update":{
          "shape":{"signal":"({'GradDiff':'M-2.25,0H2.25M0,-0.45L0.4,0.27L-0.4,0.27Z','DPO':'M-2.25,0H2.25M-0.36,0A0.36,0.36,0,1,0,0.36,0A0.36,0.36,0,1,0,-0.36,0Z','RMU':'M-2.25,0H2.25M-0.4,0H0.4M0,-0.4V0.4','GradAscent':'M-2.25,0H2.25M-0.34,-0.34H0.34V0.34H-0.34Z','NPO':'M-2.25,0H2.25M0,-0.5L0.38,0L0,0.5L-0.38,0Z','UNDIAL':'M-2.25,0H2.25M-0.27,-0.27L0.27,0.27M-0.27,0.27L0.27,-0.27','Retrain':'M-2.25,0H-1.98M-1.4,0H-1.12M-0.54,0H-0.27M0.32,0H0.59M1.17,0H1.44M1.98,0H2.25','Ideal':'M-2.25,0H-0.34M0.79,0H1.58'})[datum.value]"},
          "fill":{"signal":"({'GradDiff':'#2ca02c','DPO':'#1f77b4','RMU':'#9467bd','GradAscent':'#ff7f0e','NPO':'#d62728','UNDIAL':'#8c564b','Retrain':'#000000','Ideal':'#555555'})[datum.value]"},
          "stroke":{"signal":"({'GradDiff':'#2ca02c','DPO':'#1f77b4','RMU':'#9467bd','GradAscent':'#ff7f0e','NPO':'#d62728','UNDIAL':'#8c564b','Retrain':'#000000','Ideal':'#555555'})[datum.value]"},
          "strokeWidth":{"value":2.2},"strokeDash":{"value":[]},"opacity":{"value":1}}}}}}}},
    {"data":{"name":"curves"},"transform":[{"filter":"datum.model==='Qwen' && datum.metric==='ROUGE'"}],"mark":{"type":"point","filled":false,"strokeWidth":1.8,"size":120,"clip":true,"opacity":1},
     "encoding":{"x":{"field":"epoch","type":"quantitative"},"color":{"field":"method","type":"nominal"},"shape":{"field":"method","type":"nominal","legend":null}}}
   ]},
  {"width":330,"height":217,"title":"LLM-Judge",
   "encoding":{"y":{"field":"score","type":"quantitative","scale":{"domain":[-0.019,1.024],"nice":false,"zero":false},"axis":{"title":"LLM-Judge","values":[0,0.2,0.4,0.6,0.8,1.0],"format":".1f"}}},
   "layer":[
    {"data":{"name":"refs"},"transform":[{"filter":"datum.model==='Qwen' && datum.metric==='Judge'"}],"mark":{"type":"rule","strokeWidth":2.5},
     "encoding":{"color":{"field":"method","type":"nominal"},"strokeDash":{"field":"method","type":"nominal","legend":null}}},
    {"data":{"name":"curves"},"transform":[{"filter":"datum.model==='Qwen' && datum.metric==='Judge'"}],"mark":{"type":"line","strokeWidth":2.5,"strokeDash":[10,4.5]},
     "encoding":{"x":{"field":"epoch","type":"quantitative","scale":{"domain":[0,20],"nice":false},"axis":{"title":"Epoch","values":[0,5,10,15,20]}},"color":{"field":"method","type":"nominal"}}},
    {"data":{"name":"curves"},"transform":[{"filter":"datum.model==='Qwen' && datum.metric==='Judge'"}],"mark":{"type":"point","filled":false,"strokeWidth":1.8,"size":120,"clip":true,"opacity":1},
     "encoding":{"x":{"field":"epoch","type":"quantitative"},"color":{"field":"method","type":"nominal"},"shape":{"field":"method","type":"nominal","legend":null}}}
   ]},
  {"width":330,"height":217,"title":"Model Utility",
   "encoding":{"y":{"field":"score","type":"quantitative","scale":{"domain":[-0.031,0.644],"nice":false,"zero":false},"axis":{"title":"Utility","values":[0,0.1,0.2,0.3,0.4,0.5,0.6],"format":".1f"}}},
   "layer":[
    {"data":{"name":"refs"},"transform":[{"filter":"datum.model==='Qwen' && datum.metric==='Utility'"}],"mark":{"type":"rule","strokeWidth":2.5},
     "encoding":{"color":{"field":"method","type":"nominal"},"strokeDash":{"field":"method","type":"nominal","legend":null}}},
    {"data":{"name":"curves"},"transform":[{"filter":"datum.model==='Qwen' && datum.metric==='Utility'"}],"mark":{"type":"line","strokeWidth":2.5,"strokeDash":[10,4.5]},
     "encoding":{"x":{"field":"epoch","type":"quantitative","scale":{"domain":[0,20],"nice":false},"axis":{"title":"Epoch","values":[0,5,10,15,20]}},"color":{"field":"method","type":"nominal"}}},
    {"data":{"name":"curves"},"transform":[{"filter":"datum.model==='Qwen' && datum.metric==='Utility'"}],"mark":{"type":"point","filled":false,"strokeWidth":1.8,"size":120,"clip":true,"opacity":1},
     "encoding":{"x":{"field":"epoch","type":"quantitative"},"color":{"field":"method","type":"nominal"},"shape":{"field":"method","type":"nominal","legend":null}}}
   ]}
 ]}
]
}
